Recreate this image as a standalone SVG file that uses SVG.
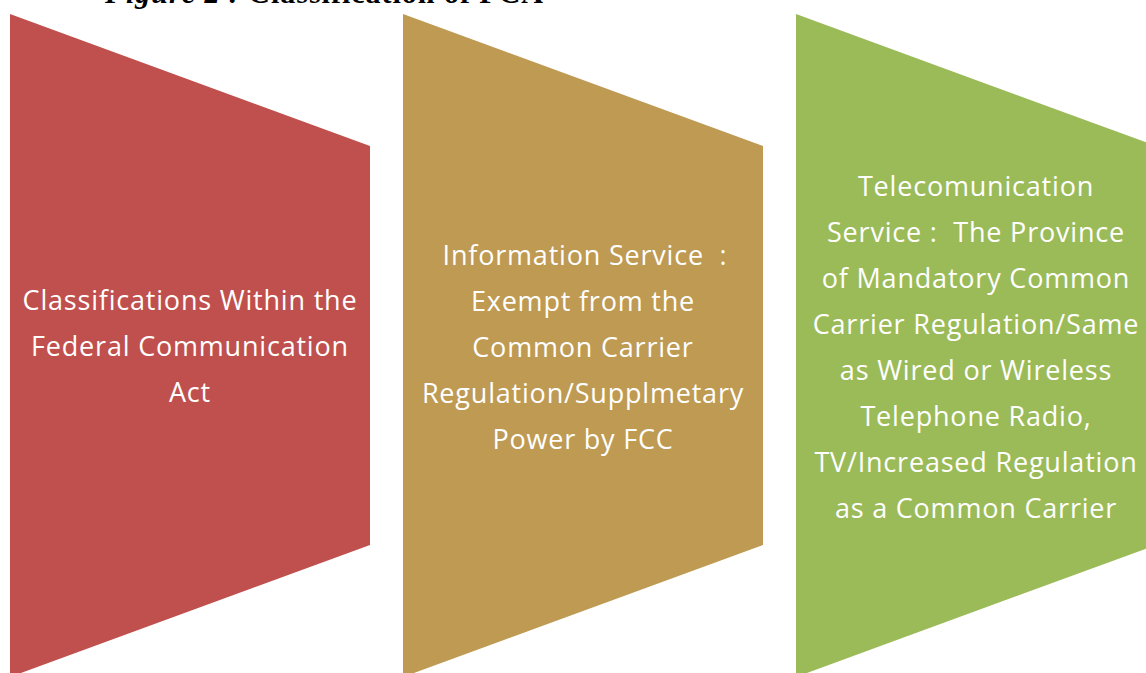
<svg xmlns="http://www.w3.org/2000/svg" width="1146" height="673" viewBox="0 0 1146 673">
<style>
.lbl{font-family:"Open Sans","Noto Sans",sans-serif;font-size:27px;letter-spacing:0.8px;fill:#ffffff;text-anchor:middle}
.title{font-family:"Liberation Serif",serif;font-size:30px;font-weight:bold;fill:#000}
</style>
<rect width="1146" height="673" fill="#ffffff"/>
<text class="title" x="105" y="3" textLength="438" lengthAdjust="spacing"><tspan font-style="italic">Figure 2 :</tspan> Classification of FCA</text>
<g id="node1">
<polygon points="10,14 370,146 370,545 10,677" fill="#C0504D"/>
<text class="lbl"><tspan x="190" y="310">Classifications Within the</tspan><tspan x="190" y="356">Federal Communication</tspan><tspan x="190" y="402">Act</tspan></text>
</g>
<g id="node2">
<polygon points="403,14 763,146 763,545 403,677" fill="#BE9A53"/>
<text class="lbl"><tspan x="585" y="265">Information Service&#160;&#160;:</tspan><tspan x="583" y="311">Exempt from the</tspan><tspan x="583" y="357">Common Carrier</tspan><tspan x="583" y="403">Regulation/Supplmetary</tspan><tspan x="583" y="449">Power by FCC</tspan></text>
</g>
<g id="node3">
<polygon points="796,14 1156,146 1156,545 796,677" fill="#9BBB59"/>
<text class="lbl"><tspan x="976" y="196">Telecomunication</tspan><tspan x="976" y="242">Service :&#160;&#160;The Province</tspan><tspan x="976" y="288">of Mandatory Common</tspan><tspan x="976" y="334">Carrier Regulation/Same</tspan><tspan x="976" y="380">as Wired or Wireless</tspan><tspan x="976" y="426">Telephone Radio,</tspan><tspan x="976" y="472">TV/Increased Regulation</tspan><tspan x="976" y="518">as a Common Carrier</tspan></text>
</g>
<g id="connectors"></g>
</svg>
